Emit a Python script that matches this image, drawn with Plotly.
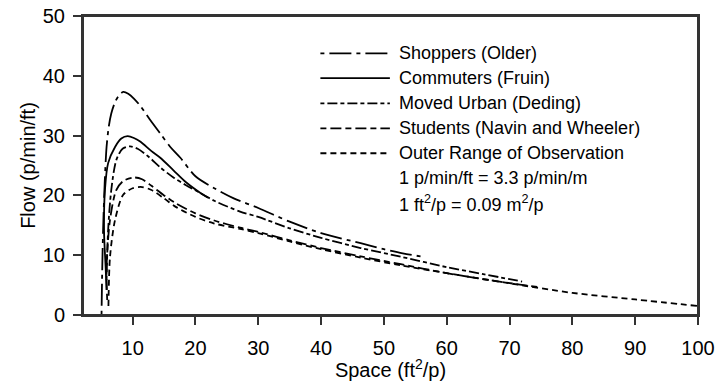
import plotly.graph_objects as go

# ---- data ----
shoppers_x = [5.05, 5.15, 5.3, 5.55, 5.85, 6.2, 6.6, 7.2, 7.8, 8.5, 9.3, 10.2, 11.2, 12.8, 14.5, 16, 17.6, 20, 23, 26.1, 30, 35, 40, 46.3, 50, 53, 56.2]
shoppers_y = [0, 7, 14.2, 22, 28.1, 31.5, 33.7, 35.6, 36.7, 37.3, 37.0, 36.2, 35.0, 32.6, 30.2, 28.1, 26.3, 23.2, 21.2, 19.5, 17.9, 15.6, 13.7, 12.0, 11.0, 10.3, 9.75]

commuters_x = [5.85, 5.7, 5.45, 5.6, 6.1, 7.2, 8.2, 9.2, 10.2, 11.2, 13, 14.4, 16.5, 18.5, 20.8, 22]
commuters_y = [4.2, 8.1, 14.0, 21.0, 25.4, 28.1, 29.5, 29.9, 29.6, 29.0, 27.4, 26.3, 24.2, 22.2, 20.4, 19.6]

moved_x = [5.85, 6.1, 6.6, 7.4, 8.4, 9.6, 10.8, 12.5, 14.5, 16.5, 18.5, 20.8, 23, 27.1, 30, 35, 40, 46.3, 52.7, 60, 66, 72]
moved_y = [5.9, 14.2, 20.9, 25.9, 27.8, 28.2, 27.8, 26.5, 24.6, 23.0, 21.7, 20.4, 19.1, 17.3, 16.4, 14.5, 12.9, 11.2, 9.75, 8.0, 6.8, 5.6]

students_x = [5.95, 5.85, 6.4, 7.4, 8.5, 10.2, 11.5, 13, 15, 17, 20, 23, 27.1, 30, 35, 40, 46.3, 52.7, 60, 67, 75]
students_y = [2.5, 8.1, 15.9, 20.9, 22.4, 23.0, 22.7, 21.6, 20.0, 18.6, 17.0, 15.8, 14.6, 13.9, 12.5, 11.2, 9.8, 8.5, 7.0, 5.8, 4.6]

outer_x = [6.15, 6.4, 7.2, 8.5, 10, 11.5, 13, 15, 17, 20, 23, 27.1, 30, 35, 40, 46.3, 52.7, 60, 70, 80, 90, 100]
outer_y = [1.5, 9.7, 15.9, 20.1, 21.2, 21.4, 20.9, 19.5, 18.0, 16.4, 15.3, 14.4, 13.7, 12.3, 11.0, 9.6, 8.3, 7.0, 5.3, 3.7, 2.6, 1.5]

series_names = ["Shoppers (Older)", "Commuters (Fruin)", "Moved Urban (Deding)",
                "Students (Navin and Wheeler)", "Outer Range of Observation"]
series_x = [shoppers_x, commuters_x, moved_x, students_x, outer_x]
series_y = [shoppers_y, commuters_y, moved_y, students_y, outer_y]
series_dash = ["4px,5px,22px,5px", "solid", "4px,3px,10px,3px", "6px,4px,11px,4px", "6px,4px"]

note_lines = ["1 p/min/ft = 3.3 p/min/m", "1 ft<sup>2</sup>/p = 0.09 m<sup>2</sup>/p"]

x_ticks = [10, 20, 30, 40, 50, 60, 70, 80, 90, 100]
y_ticks = [0, 10, 20, 30, 40, 50]

FONT = "Liberation Sans, Arial, Helvetica, sans-serif"
AX = "#333333"

fig = go.Figure()
for name, xs, ys, dash in zip(series_names, series_x, series_y, series_dash):
    fig.add_trace(go.Scatter(x=xs, y=ys, mode="lines", name=name,
                             line=dict(color="black", width=1.8, dash=dash,
                                       shape="spline", smoothing=0.8),
                             showlegend=False))

# frame around the plot area
fig.add_shape(type="rect", xref="paper", yref="paper", x0=0, x1=1, y0=0, y1=1,
              line=dict(color=AX, width=2), fillcolor="rgba(0,0,0,0)", layer="above")

# manual legend (long line samples like the reference)
row_y = [0.875, 0.792, 0.708, 0.624, 0.541]
for name, dash, yp in zip(series_names, series_dash, row_y):
    fig.add_shape(type="line", xref="paper", yref="paper",
                  x0=0.386, x1=0.499, y0=yp, y1=yp,
                  line=dict(color="black", width=1.8, dash=dash))
    fig.add_annotation(xref="paper", yref="paper", x=0.5106, y=yp, text=name,
                       showarrow=False, xanchor="left", yanchor="middle",
                       font=dict(family=FONT, size=18, color="black"))
for txt, yp in zip(note_lines, [0.457, 0.374]):
    fig.add_annotation(xref="paper", yref="paper", x=0.5106, y=yp, text=txt,
                       showarrow=False, xanchor="left", yanchor="middle",
                       font=dict(family=FONT, size=18, color="black"))

fig.update_layout(
    width=720, height=381,
    margin=dict(l=83, r=22, t=16, b=66, autoexpand=False),
    paper_bgcolor="white", plot_bgcolor="white",
    font=dict(family=FONT, size=20, color="black"),
    showlegend=False,
)
fig.update_xaxes(range=[2.1, 100], tickvals=x_ticks, showgrid=False, zeroline=False,
                 showline=True, mirror=True, linecolor=AX, linewidth=2,
                 ticks="outside", ticklen=8, tickwidth=2, tickcolor=AX,
                 ticklabelstandoff=6, automargin=False, ticklabeloverflow="allow",
                 tickfont=dict(family=FONT, size=20),
                 title=dict(text="Space (ft<sup>2</sup>/p)", standoff=6,
                            font=dict(family=FONT, size=20)))
fig.update_yaxes(range=[0, 50], tickvals=y_ticks, showgrid=False, zeroline=False,
                 showline=True, mirror=True, linecolor=AX, linewidth=2,
                 ticks="outside", ticklen=8, tickwidth=2, tickcolor=AX,
                 ticklabelstandoff=4, automargin=False, ticklabeloverflow="allow",
                 tickfont=dict(family=FONT, size=20),
                 title=dict(text="Flow (p/min/ft)", standoff=2,
                            font=dict(family=FONT, size=20)))

# remove the page's default body margin so the figure fills the window exactly
fig.write_html("out.html", config={"displayModeBar": False},
               post_script="document.body.style.margin='0';")
